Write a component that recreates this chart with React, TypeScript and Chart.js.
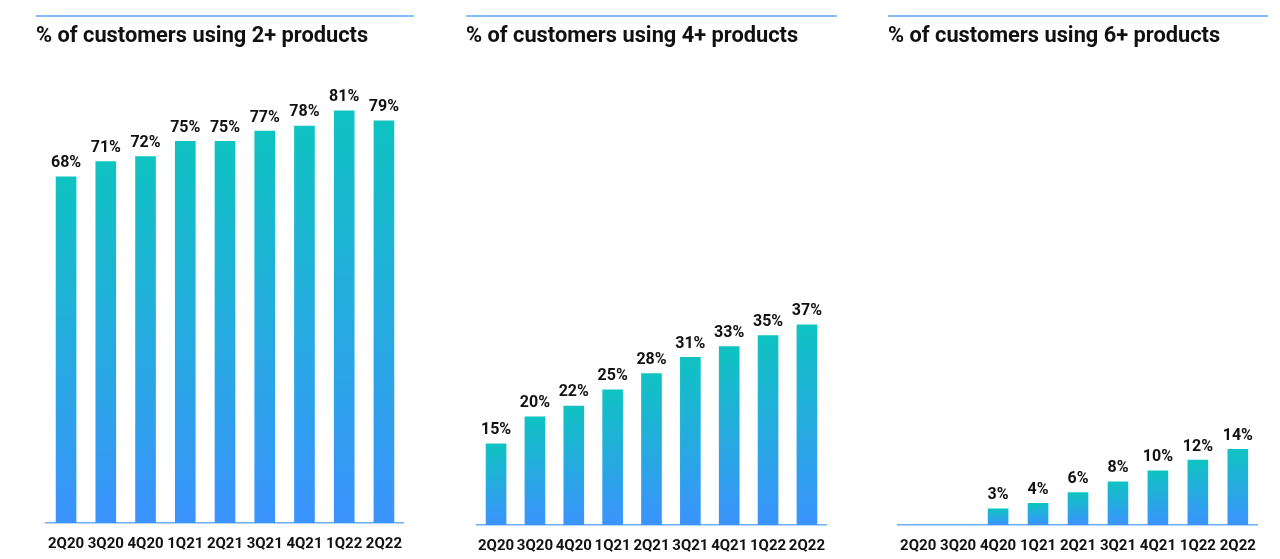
import React, { useEffect, useRef } from "react";
import { Chart, registerables } from "chart.js";

Chart.register(...registerables);

const QUARTERS = ["2Q20", "3Q20", "4Q20", "1Q21", "2Q21", "3Q21", "4Q21", "1Q22", "2Q22"];
const PCT_2PLUS: (number | null)[] = [68, 71, 72, 75, 75, 77, 78, 81, 79];
const PCT_4PLUS: (number | null)[] = [15, 20, 22, 25, 28, 31, 33, 35, 37];
const PCT_6PLUS: (number | null)[] = [null, null, 3, 4, 6, 8, 10, 12, 14];
const TITLES = [
  "% of customers using 2+ products",
  "% of customers using 4+ products",
  "% of customers using 6+ products",
];
const Y_MAX = [89, 84.1, 84.1];

const BAR_TOP = "#0fc3c2";
const BAR_BOTTOM = "#3b93fd";
const LINE_COLOR = "#5aa9f6";
const AXIS_COLOR = "#6aaef6";
const TEXT = "#111111";
const FONT = "Roboto, 'Noto Sans', sans-serif";

type PanelCfg = {
  left: number;
  width: number;
  padLeft: number;
  padRight: number;
  axisH: number;
};

const PANELS: PanelCfg[] = [
  { left: 36, width: 378, padLeft: 5.5, padRight: 4.5, axisH: 36 },
  { left: 466, width: 371, padLeft: 5, padRight: 5.5, axisH: 34 },
  { left: 888, width: 380, padLeft: 4.5, padRight: 7.5, axisH: 34 },
];

const headerPlugin = {
  id: "panelHeader",
  afterDraw(chart: any, _args: any, opts: any) {
    const ctx = chart.ctx;
    ctx.save();
    ctx.strokeStyle = LINE_COLOR;
    ctx.lineWidth = 1.5;
    ctx.beginPath();
    ctx.moveTo(0, 16);
    ctx.lineTo(chart.width, 16);
    ctx.stroke();
    ctx.fillStyle = TEXT;
    ctx.font = `bold 21.8px ${FONT}`;
    ctx.textAlign = "left";
    ctx.textBaseline = "alphabetic";
    ctx.fillText(opts.text || "", 0, 42);
    ctx.restore();
  },
};

const valueLabelPlugin = {
  id: "valueLabels",
  afterDatasetsDraw(chart: any) {
    const ctx = chart.ctx;
    const meta = chart.getDatasetMeta(0);
    const data = chart.data.datasets[0].data;
    ctx.save();
    ctx.fillStyle = TEXT;
    ctx.font = `bold 16px ${FONT}`;
    ctx.textAlign = "center";
    ctx.textBaseline = "alphabetic";
    meta.data.forEach((el: any, i: number) => {
      const v = data[i];
      if (v == null) return;
      ctx.fillText(`${v}%`, el.x, el.y - 9.5);
    });
    ctx.restore();
  },
};

function Panel({ idx, values }: { idx: number; values: (number | null)[] }) {
  const ref = useRef<HTMLCanvasElement | null>(null);
  const cfg = PANELS[idx];
  useEffect(() => {
    if (!ref.current) return;
    const chart = new Chart(ref.current, {
      type: "bar",
      data: {
        labels: QUARTERS,
        datasets: [
          {
            data: values as any,
            barThickness: 20,
            borderWidth: 0,
            backgroundColor: (c: any) => {
              const ch = c.chart;
              if (!ch.chartArea || c.type !== "data") return BAR_TOP;
              const v = c.parsed ? c.parsed.y : null;
              if (v == null) return BAR_TOP;
              const ys = ch.scales.y;
              const top = ys.getPixelForValue(v);
              const bottom = ys.getPixelForValue(0);
              const g = ch.ctx.createLinearGradient(0, top, 0, bottom);
              g.addColorStop(0, BAR_TOP);
              g.addColorStop(1, BAR_BOTTOM);
              return g;
            },
          },
        ],
      },
      options: {
        responsive: false,
        animation: false,
        layout: {
          padding: { left: cfg.padLeft, right: cfg.padRight, top: 70, bottom: 0 },
        },
        plugins: {
          legend: { display: false },
          tooltip: { enabled: false },
          title: { display: false },
          panelHeader: { text: TITLES[idx] },
        } as any,
        scales: {
          x: {
            grid: { display: false, drawTicks: false },
            border: { display: true, color: AXIS_COLOR, width: 1.5 },
            ticks: {
              color: TEXT,
              font: { family: FONT, size: 15, weight: "bold" },
              padding: 12,
              autoSkip: false,
              maxRotation: 0,
              minRotation: 0,
            },
            afterFit: (scale: any) => {
              scale.height = cfg.axisH;
            },
          },
          y: {
            display: false,
            min: 0,
            max: Y_MAX[idx],
          },
        },
      },
      plugins: [headerPlugin, valueLabelPlugin],
    });
    return () => chart.destroy();
  }, []);
  return (
    <canvas
      ref={ref}
      width={cfg.width}
      height={559}
      style={{ position: "absolute", left: cfg.left, top: 0, width: cfg.width, height: 559 }}
    />
  );
}

export default function App() {
  return (
    <div style={{ position: "absolute", left: 0, top: 0, width: 1280, height: 559, background: "#fff", overflow: "hidden" }}>
      <Panel idx={0} values={PCT_2PLUS} />
      <Panel idx={1} values={PCT_4PLUS} />
      <Panel idx={2} values={PCT_6PLUS} />
    </div>
  );
}
